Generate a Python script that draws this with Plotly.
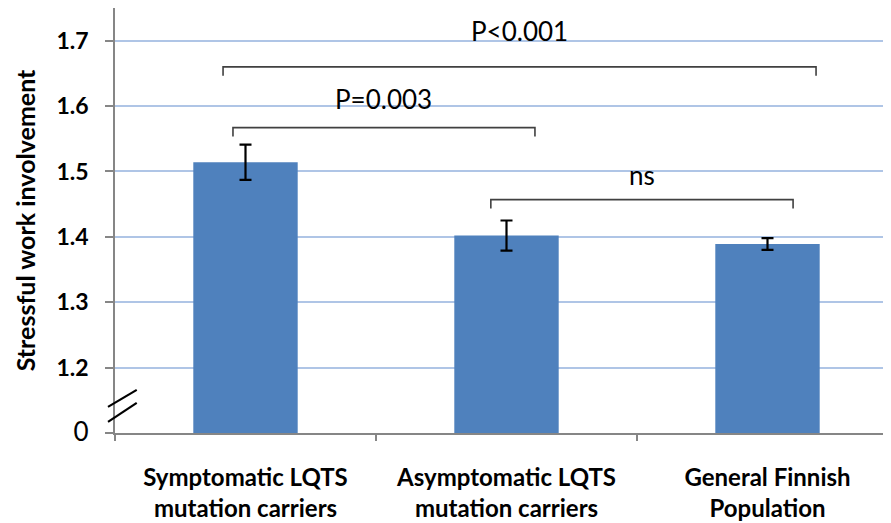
import plotly.graph_objects as go

categories = ["Symptomatic LQTS<br>mutation carriers",
              "Asymptomatic LQTS<br>mutation carriers",
              "General Finnish<br>Population"]
means = [1.514, 1.402, 1.389]
errors = [0.027, 0.023, 0.009]

ytick_vals = [1.1, 1.2, 1.3, 1.4, 1.5, 1.6, 1.7]
ytick_text = ["<span style='font-size:26px'>0</span>", "<b>1.2</b>", "<b>1.3</b>", "<b>1.4</b>",
              "<b>1.5</b>", "<b>1.6</b>", "<b>1.7</b>"]

# significance comparisons: label, x-start, x-end, bracket level, label level
comp_labels = ["P<0.001", "P=0.003", "ns"]
comp_x0 = [-0.086, -0.048, 0.94]
comp_x1 = [2.186, 1.109, 2.098]
comp_level = [1.660, 1.567, 1.457]
comp_label_y = [1.715, 1.611, 1.495]

x = list(range(len(categories)))

fig = go.Figure()
fig.add_trace(go.Bar(
    x=x, y=means, width=0.4,
    marker=dict(color="#4f81bd", line=dict(width=0)),
    error_y=dict(type="data", array=errors, visible=True,
                 color="black", thickness=2.2, width=6),
))

FONT = "Lato"
shapes = []
annotations = []
for lab, a, b, lv, ty in zip(comp_labels, comp_x0, comp_x1, comp_level, comp_label_y):
    shapes.append(dict(type="path",
                       path=f"M {a} {lv-0.0135} L {a} {lv} L {b} {lv} L {b} {lv-0.0135}",
                       xref="x", yref="y", line=dict(color="#404040", width=1.6)))
    annotations.append(dict(x=(a + b) / 2, y=ty, xref="x", yref="y",
                            text=lab, showarrow=False,
                            font=dict(family=FONT, size=26, color="black")))

# axis break marks
for y0, y1 in [(1.140, 1.166), (1.117, 1.146)]:
    shapes.append(dict(type="line", xref="paper", yref="y",
                       x0=-0.009, x1=0.028, y0=y0, y1=y1,
                       line=dict(color="black", width=2.2)))

# the page body adds an 8px offset, so the figure is sized to fill the rest of the window
fig.update_layout(
    width=883, height=515,
    margin=dict(l=107, r=0, t=0, b=90),
    paper_bgcolor="white", plot_bgcolor="white",
    showlegend=False,
    shapes=shapes, annotations=annotations,
    xaxis=dict(range=[-0.5, -0.5 + 776 / 261], tickmode="array", tickvals=x,
               ticktext=[f"<b>{c}</b>".replace("<br>", "</b><br><b>") for c in categories],
               ticks="", showgrid=False, showline=True, linecolor="#868686", linewidth=1.5,
               tickfont=dict(family=FONT, size=24, color="black"), ticklabelstandoff=22,
               minor=dict(tick0=-0.5, dtick=1, ticks="outside", ticklen=6,
                          tickcolor="#868686", tickwidth=1.5, showgrid=False),
               zeroline=False, fixedrange=True, automargin=False),
    yaxis=dict(range=[1.1, 1.75], tickmode="array", tickvals=ytick_vals, ticktext=ytick_text,
               ticks="outside", ticklen=8, tickcolor="#868686", tickwidth=1.5,
               showline=True, linecolor="#868686", linewidth=1.5,
               showgrid=True, gridcolor="#afc5e6", gridwidth=1.5,
               tickfont=dict(family=FONT, size=23, color="black"), ticklabelstandoff=12,
               zeroline=False, automargin=False,
               title=dict(text="<b>Stressful work involvement</b>", standoff=14,
                          font=dict(family=FONT, size=25, color="black"))),
)

fig.write_html("out.html")
